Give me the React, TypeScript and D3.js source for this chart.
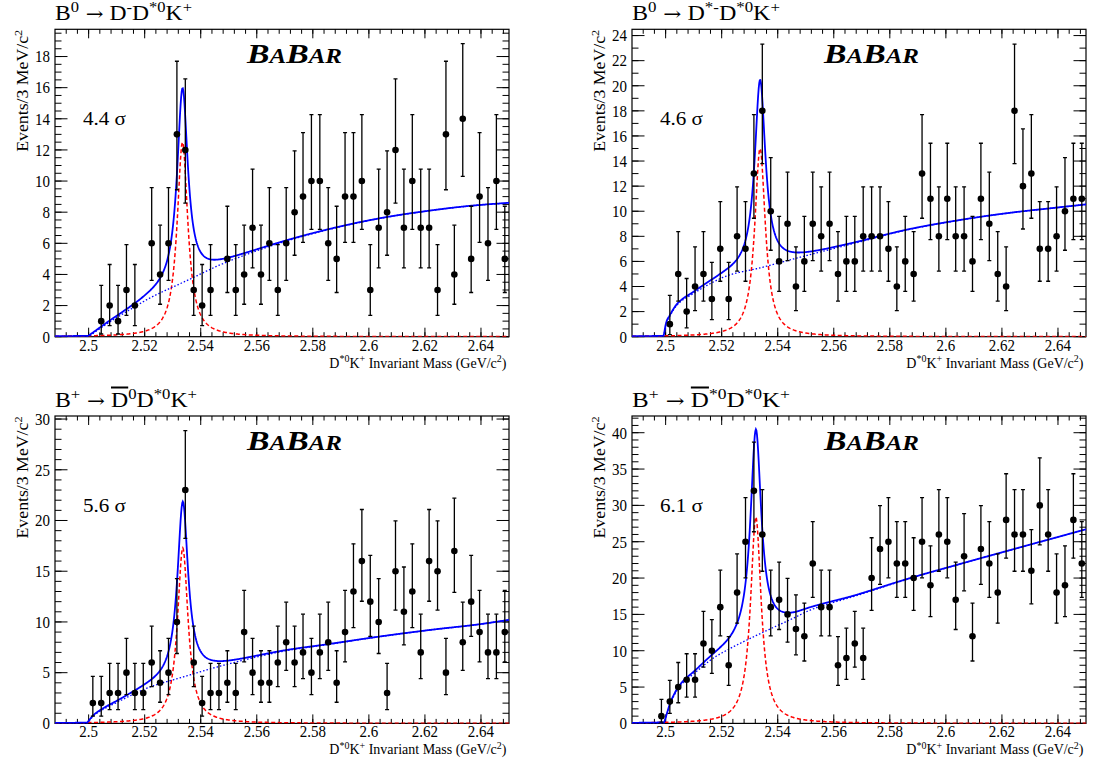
import React from 'react';
import * as d3 from 'd3';

// ---------------- data ----------------
const BIN_LOW = 2.488;
const BIN_WIDTH = 0.003;
const X_MIN = 2.488;
const X_MAX = 2.65;
const X_TICK_LABELS = [2.5, 2.52, 2.54, 2.56, 2.58, 2.6, 2.62, 2.64];

// events per 3 MeV bin, bins start at BIN_LOW
const countsB0DmDst0K = [0, 0, 0, 0, 0, 1, 2, 1, 3, 2, 0, 6, 4, 6, 13, 12, 3, 2, 3, 0, 5, 3, 4, 7, 4, 6, 3, 6, 8, 9, 10, 10, 6, 5, 9, 9, 10, 3, 7, 8, 12, 7, 10, 7, 7, 3, 13, 4, 14, 5, 9, 6, 10, 5];
const countsB0DstmDst0K = [0, 0, 0, 0, 1, 5, 2, 4, 5, 3, 7, 3, 8, 7, 13, 18, 10, 6, 9, 4, 6, 9, 8, 9, 5, 6, 6, 8, 8, 8, 7, 4, 6, 5, 13, 11, 8, 11, 8, 8, 6, 11, 9, 5, 4, 18, 12, 13, 7, 7, 8, 10, 11, 11];
const countsBpD0bDst0K = [0, 0, 0, 0, 2, 2, 3, 3, 5, 3, 3, 6, 4, 5, 10, 23, 6, 2, 3, 3, 4, 3, 9, 5, 4, 4, 6, 8, 6, 7, 5, 7, 8, 4, 9, 13, 16, 12, 10, 3, 15, 11, 13, 7, 16, 15, 5, 17, 8, 12, 9, 7, 7, 9];
const countsBpDst0bDst0K = [0, 0, 0, 1, 3, 5, 6, 6, 11, 10, 16, 8, 18, 25, 32, 26, 16, 17, 15, 13, 12, 22, 16, 16, 8, 9, 11, 9, 20, 24, 25, 22, 22, 20, 25, 19, 26, 25, 17, 23, 12, 24, 22, 18, 28, 26, 26, 21, 30, 26, 18, 19, 28, 22];

// background fit (blue dotted): mass / events
const bg1Mass = [2.4999, 2.5076, 2.5167, 2.522, 2.535, 2.548, 2.568, 2.586, 2.604, 2.622, 2.636, 2.65];
const bg1Val = [0, 0.95, 1.95, 2.5, 3.6, 4.7, 6.0, 6.9, 7.6, 8.1, 8.4, 8.6];
const bg2Mass = [2.4993, 2.5002, 2.5014, 2.504, 2.51, 2.5165, 2.522, 2.534, 2.5457, 2.5683, 2.586, 2.604, 2.6216, 2.6394, 2.65];
const bg2Val = [0, 1.05, 1.6, 2.5, 3.45, 4.3, 4.86, 5.5, 6.2, 7.5, 8.5, 9.25, 9.83, 10.28, 10.54];
const bg3Mass = [2.4995, 2.5017, 2.5047, 2.5106, 2.5166, 2.522, 2.534, 2.5457, 2.5683, 2.586, 2.604, 2.6218, 2.6396, 2.65];
const bg3Val = [0, 0.72, 1.3, 2.14, 2.96, 3.6, 4.6, 5.55, 7.05, 7.8, 8.55, 9.2, 9.77, 10.2];
const bg4Mass = [2.4995, 2.5017, 2.5047, 2.5106, 2.5167, 2.522, 2.534, 2.5457, 2.5516, 2.5683, 2.586, 2.604, 2.6217, 2.6396, 2.65];
const bg4Val = [0, 2.7, 4.9, 7.0, 8.9, 10.1, 12.4, 14.5, 15.6, 17.6, 19.8, 21.8, 23.7, 25.6, 26.7];

// signal (red dashed) peak parameters
const peakMass = [2.5335, 2.5337, 2.5336, 2.5322];
const peakHeight = [12.5, 15.0, 17.3, 28.4];
const peakHalfWidth = [0.0023, 0.0023, 0.0023, 0.0023];

const significance = ['4.4', '4.6', '5.6', '6.1'];
const yMaxes = [19.75, 24.5, 30.3, 42.3];
const yLabelSteps = [2, 2, 5, 5];
const yMinorSteps = [0.5, 1, 1, 1];
const yLabelMax = [18, 24, 30, 40];

const allCounts = [countsB0DmDst0K, countsB0DstmDst0K, countsBpD0bDst0K, countsBpDst0bDst0K];
const allBgMass = [bg1Mass, bg2Mass, bg3Mass, bg4Mass];
const allBgVal = [bg1Val, bg2Val, bg3Val, bg4Val];

// ---------------- helpers ----------------
const FONT = "'Liberation Serif', 'DejaVu Serif', serif";
const ARROW_FONT = "'DejaVu Serif', 'DejaVu Sans', serif";

function makeMonotone(xs: number[], ys: number[]) {
  const n = xs.length;
  const d: number[] = [];
  for (let i = 0; i < n - 1; i++) d.push((ys[i + 1] - ys[i]) / (xs[i + 1] - xs[i]));
  const m: number[] = new Array(n);
  m[0] = d[0];
  m[n - 1] = d[n - 2];
  for (let i = 1; i < n - 1; i++) m[i] = d[i - 1] * d[i] <= 0 ? 0 : (d[i - 1] + d[i]) / 2;
  for (let i = 0; i < n - 1; i++) {
    if (d[i] === 0) { m[i] = 0; m[i + 1] = 0; continue; }
    const a = m[i] / d[i], b = m[i + 1] / d[i], s = a * a + b * b;
    if (s > 9) { const t = 3 / Math.sqrt(s); m[i] = t * a * d[i]; m[i + 1] = t * b * d[i]; }
  }
  return (x: number) => {
    if (x <= xs[0]) return 0;
    if (x >= xs[n - 1]) return ys[n - 1];
    const i = Math.min(n - 2, d3.bisectRight(xs, x) - 1);
    const h = xs[i + 1] - xs[i];
    const t = (x - xs[i]) / h;
    const t2 = t * t, t3 = t2 * t;
    return (2 * t3 - 3 * t2 + 1) * ys[i] + (t3 - 2 * t2 + t) * h * m[i] + (-2 * t3 + 3 * t2) * ys[i + 1] + (t3 - t2) * h * m[i + 1];
  };
}

function poisCdf(n: number, mu: number) {
  let term = Math.exp(-mu);
  let sum = term;
  for (let i = 1; i <= n; i++) { term *= mu / i; sum += term; }
  return sum;
}

// Garwood 68.27% interval for a Poisson count
function garwood(n: number): [number, number] {
  const a = 0.158655;
  let lo = 0;
  if (n > 0) {
    let L = 0, H = n + 2;
    for (let k = 0; k < 60; k++) {
      const mid = (L + H) / 2;
      if (poisCdf(n - 1, mid) > 1 - a) L = mid; else H = mid;
    }
    lo = (L + H) / 2;
  }
  let L = n, H = n + 10 * Math.sqrt(n + 1) + 10;
  for (let k = 0; k < 60; k++) {
    const mid = (L + H) / 2;
    if (poisCdf(n, mid) > a) L = mid; else H = mid;
  }
  return [lo, (L + H) / 2];
}

const W = 454;
const H = 307.4;
const panelOrigins = [
  { x: 55, y: 29.3 },
  { x: 632, y: 29.3 },
  { x: 55, y: 416.0 },
  { x: 632, y: 416.0 },
];

// text stretched vertically like the original rendering
function SText({ x, y, sy = 1.15, children, ...rest }: any) {
  return (
    <text transform={`translate(${x},${y}) scale(1,${sy})`} {...rest}>{children}</text>
  );
}

function Title({ idx, x, y }: { idx: number; x: number; y: number }) {
  const sup = (s: string) => (
    <tspan dy={-7.5} fontSize={14}>{s}</tspan>
  );
  const down = (s: string) => (
    <tspan dy={7.5}>{s}</tspan>
  );
  const arrow = (
    <>
      <tspan dy={7.5} fontFamily={ARROW_FONT} fontSize={18}>{' \u2192'}</tspan>
      <tspan> </tspan>
    </>
  );
  const widths = [137, 148, 142, 158];
  let content: React.ReactNode;
  if (idx === 0) {
    content = (<>B{sup('0')}{arrow}D{sup('-')}{down('D')}{sup('*0')}{down('K')}{sup('+')}</>);
  } else if (idx === 1) {
    content = (<>B{sup('0')}{arrow}D{sup('*-')}{down('D')}{sup('*0')}{down('K')}{sup('+')}</>);
  } else if (idx === 2) {
    content = (<>B{sup('+')}{arrow}<tspan textDecoration="overline">D</tspan>{sup('0')}{down('D')}{sup('*0')}{down('K')}{sup('+')}</>);
  } else {
    content = (<>B{sup('+')}{arrow}<tspan textDecoration="overline">D</tspan>{sup('*0')}{down('D')}{sup('*0')}{down('K')}{sup('+')}</>);
  }
  return (
    <text x={x} y={y} fontFamily={FONT} fontSize={20} fill="#000" textLength={widths[idx]} lengthAdjust="spacingAndGlyphs">
      {content}
    </text>
  );
}

function Panel({ idx }: { idx: number }) {
  const { x: x0, y: y0 } = panelOrigins[idx];
  const xs = d3.scaleLinear().domain([X_MIN, X_MAX]).range([x0, x0 + W]);
  const ys = d3.scaleLinear().domain([0, yMaxes[idx]]).range([y0 + H, y0]);
  const counts = allCounts[idx];
  const bg = makeMonotone(allBgMass[idx], allBgVal[idx]);
  const sig = (m: number) => peakHeight[idx] / (1 + ((m - peakMass[idx]) / peakHalfWidth[idx]) ** 2);
  const grid = d3.range(X_MIN, X_MAX + 1e-9, 0.0002);
  const totalPath = d3.line<number>().x((m) => xs(m)).y((m) => ys(bg(m) + sig(m)))(grid) || '';
  const bgPath = d3.line<number>().x((m) => xs(m)).y((m) => ys(bg(m)))(grid) || '';
  const sigPath = d3.line<number>().x((m) => xs(m)).y((m) => ys(sig(m)))(grid) || '';

  // ticks
  const xMinorTicks = d3.range(0, 41).map((i) => 2.492 + i * 0.004).filter((v) => v <= X_MAX + 1e-9);
  const yMajor = d3.range(0, yLabelMax[idx] + 1e-9, yLabelSteps[idx]);
  const yMinor = d3.range(0, yMaxes[idx] + 1e-9, yMinorSteps[idx]);
  const majX = 9, minX = 4.5, majY = 12.5, minY = 6.5;
  const clipId = `clip${idx}`;

  return (
    <g>
      <defs>
        <clipPath id={clipId}>
          <rect x={x0} y={y0} width={W} height={H} />
        </clipPath>
      </defs>
      {/* frame */}
      <rect x={x0} y={y0} width={W} height={H} fill="none" stroke="#000" strokeWidth={1.2} />
      {/* x ticks */}
      {xMinorTicks.map((v, i) => (
        <g key={'xm' + i}>
          <line x1={xs(v)} x2={xs(v)} y1={y0 + H} y2={y0 + H - minX} stroke="#000" strokeWidth={1} />
          <line x1={xs(v)} x2={xs(v)} y1={y0} y2={y0 + minX} stroke="#000" strokeWidth={1} />
        </g>
      ))}
      {X_TICK_LABELS.map((v, i) => (
        <g key={'xM' + i}>
          <line x1={xs(v)} x2={xs(v)} y1={y0 + H} y2={y0 + H - majX} stroke="#000" strokeWidth={1} />
          <line x1={xs(v)} x2={xs(v)} y1={y0} y2={y0 + majX} stroke="#000" strokeWidth={1} />
          <SText x={xs(v)} y={y0 + H + 13.8} textAnchor="middle" fontFamily={FONT} fontSize={15}>{String(v)}</SText>
        </g>
      ))}
      {/* y ticks */}
      {yMinor.map((v, i) => (
        <g key={'ym' + i}>
          <line x1={x0} x2={x0 + minY} y1={ys(v)} y2={ys(v)} stroke="#000" strokeWidth={1} />
          <line x1={x0 + W} x2={x0 + W - minY} y1={ys(v)} y2={ys(v)} stroke="#000" strokeWidth={1} />
        </g>
      ))}
      {yMajor.map((v, i) => (
        <g key={'yM' + i}>
          <line x1={x0} x2={x0 + majY} y1={ys(v)} y2={ys(v)} stroke="#000" strokeWidth={1} />
          <line x1={x0 + W} x2={x0 + W - majY} y1={ys(v)} y2={ys(v)} stroke="#000" strokeWidth={1} />
          <SText x={x0 - 5} y={ys(v) + 5.8} textAnchor="end" fontFamily={FONT} fontSize={15}>{String(v)}</SText>
        </g>
      ))}
      {/* curves */}
      <g clipPath={`url(#${clipId})`}>
        <path d={sigPath} fill="none" stroke="#ff0000" strokeWidth={1.5} strokeDasharray="4,2.5" />
        <path d={bgPath} fill="none" stroke="#0000ff" strokeWidth={1.3} strokeDasharray="1.5,2" />
        <path d={totalPath} fill="none" stroke="#0000ff" strokeWidth={1.8} />
        {/* data */}
        {counts.map((n, k) => {
          if (n <= 0) return null;
          const cx = xs(BIN_LOW + BIN_WIDTH * (k + 0.5));
          const [lo, hi] = garwood(n);
          return (
            <g key={'d' + k}>
              <line x1={cx} x2={cx} y1={ys(lo)} y2={ys(hi)} stroke="#000" strokeWidth={1.3} />
              <line x1={cx - 2} x2={cx + 2} y1={ys(lo)} y2={ys(lo)} stroke="#000" strokeWidth={1.3} />
              <line x1={cx - 2} x2={cx + 2} y1={ys(hi)} y2={ys(hi)} stroke="#000" strokeWidth={1.3} />
              <circle cx={cx} cy={ys(n)} r={3.3} fill="#000" />
            </g>
          );
        })}
      </g>
      {/* labels */}
      <Title idx={idx} x={x0} y={y0 - 9.5} />
      <text transform={`translate(${x0 - 27},${y0 + 0.5}) rotate(-90)`} textAnchor="end" fontFamily={FONT} fontSize={16} textLength={122} lengthAdjust="spacingAndGlyphs">
        Events/3 MeV/c<tspan dy={-6} fontSize={11}>2</tspan>
      </text>
      <SText x={x0 + W - 2.5} y={y0 + H + 31} sy={1.1} textAnchor="end" fontFamily={FONT} fontSize={14}>
        D<tspan dy={-5} fontSize={10}>*0</tspan><tspan dy={5}>K</tspan><tspan dy={-5} fontSize={10}>+</tspan><tspan dy={5}> Invariant Mass (GeV/c</tspan><tspan dy={-5} fontSize={10}>2</tspan><tspan dy={5}>)</tspan>
      </SText>
      <text x={x0 + 28} y={y0 + 96} fontFamily={FONT} fontSize={18} textLength={43} lengthAdjust="spacingAndGlyphs">
        {significance[idx]} {'\u03c3'}
      </text>
      <text x={x0 + 192} y={y0 + 34} fontFamily={FONT} fontWeight="bold" fontStyle="italic" textLength={95} lengthAdjust="spacingAndGlyphs">
        <tspan fontSize={27}>B</tspan><tspan fontSize={20}>A</tspan><tspan fontSize={27}>B</tspan><tspan fontSize={20}>AR</tspan>
      </text>
    </g>
  );
}

export default function App() {
  return (
    <svg width={1093} height={769} viewBox="0 0 1093 769" style={{ position: 'absolute', left: 0, top: 0, background: '#fff' }}>
      <rect x={0} y={0} width={1093} height={769} fill="#fff" />
      {[0, 1, 2, 3].map((i) => <Panel key={i} idx={i} />)}
    </svg>
  );
}
